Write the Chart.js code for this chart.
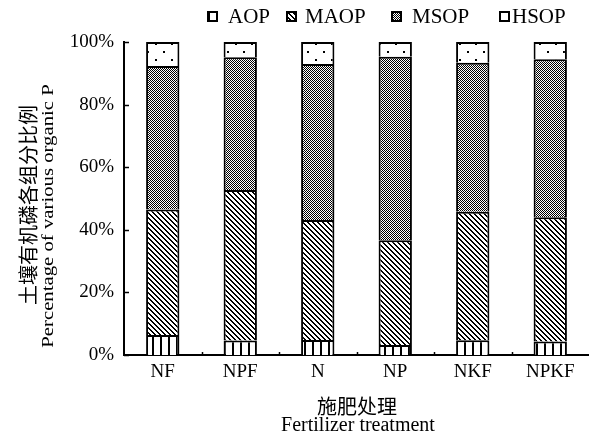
<!DOCTYPE html>
<html>
<head>
<meta charset="utf-8">
<script src="https://cdn.jsdelivr.net/npm/chart.js@4.4.1/dist/chart.umd.min.js"></script>
<style>
  html, body { margin: 0; padding: 0; background: #fff; }
</style>
</head>
<body>
<canvas id="c" width="589" height="446"></canvas>
<script>
// data (percent of total organic P)
const categories = ["NF", "NPF", "N", "NP", "NKF", "NPKF"];
const seriesNames = ["AOP", "MAOP", "MSOP", "HSOP"];
const aop = [6.4, 4.6, 4.8, 3.2, 4.7, 4.3];
const maop = [40.1, 48.1, 38.3, 33.5, 41.1, 39.7];
const msop = [45.8, 42.4, 49.9, 58.6, 47.6, 50.5];
const hsop = [7.7, 4.9, 7.0, 4.7, 6.6, 5.5];
const yTicks = [0, 20, 40, 60, 80, 100];

const serif = "'Liberation Serif', 'Times New Roman', serif";
const cjk = "'Noto Sans CJK SC', sans-serif";
const canvas = document.getElementById("c");
const ctx = canvas.getContext("2d");

function makePattern(w, h, draw) {
  const c = document.createElement("canvas");
  c.width = w;
  c.height = h;
  const g = c.getContext("2d");
  g.fillStyle = "#fff";
  g.fillRect(0, 0, w, h);
  g.fillStyle = "#000";
  draw(g);
  return ctx.createPattern(c, "repeat");
}

const patterns = [
  // vertical stripes
  makePattern(8, 8, g => g.fillRect(0, 0, 2, 8)),
  // "\" diagonal hatch
  makePattern(5, 5, g => {
    for (let i = 0; i < 5; i++) {
      g.fillRect(i, i, 1, 1);
      g.fillRect((i + 1) % 5, i, 1, 1);
    }
  }),
  // fine checker
  makePattern(2, 2, g => {
    g.fillRect(0, 0, 1, 1);
    g.fillRect(1, 1, 1, 1);
  }),
  // sparse dots
  makePattern(16, 16, g => {
    g.fillRect(3, 3, 2, 2);
    g.fillRect(11, 11, 2, 2);
  }),
];

const values = [aop, maop, msop, hsop];
const datasets = seriesNames.map((name, i) => ({
  label: name,
  data: values[i],
  backgroundColor: patterns[i],
  borderColor: "#000",
  borderWidth: { left: 2, right: 2, top: 2, bottom: 0 },
  borderSkipped: false,
  barPercentage: 0.43,
  categoryPercentage: 1,
}));

// inward ticks, legend and titles
const decor = {
  id: "decor",
  afterDraw(chart) {
    const c = chart.ctx;
    const area = chart.chartArea;
    const xs = chart.scales.x;
    const ys = chart.scales.y;
    c.save();
    c.strokeStyle = "#000";
    c.lineWidth = 1.5;
    yTicks.forEach(v => {
      const y = Math.round(ys.getPixelForValue(v)) + 0.5;
      c.beginPath();
      c.moveTo(area.left, y);
      c.lineTo(area.left + 5, y);
      c.stroke();
    });
    for (let i = 1; i < categories.length; i++) {
      const x = Math.round((xs.getPixelForValue(i - 1) + xs.getPixelForValue(i)) / 2) + 0.5;
      c.beginPath();
      c.moveTo(x, area.bottom);
      c.lineTo(x, area.bottom - 3);
      c.stroke();
    }

    // legend
    const iconX = [208, 287, 392, 500];
    const textX = [228, 305, 412, 512];
    c.font = "21px " + serif;
    c.textBaseline = "middle";
    c.textAlign = "left";
    chart.data.datasets.forEach((ds, i) => {
      c.fillStyle = ds.backgroundColor;
      c.fillRect(iconX[i], 12, 9, 9);
      c.lineWidth = 2;
      c.strokeRect(iconX[i], 12, 9, 9);
      c.fillStyle = "#000";
      c.fillText(ds.label, textX[i], 17);
    });

    // y title
    c.textAlign = "center";
    c.save();
    c.translate(28, 205);
    c.rotate(-Math.PI / 2);
    c.font = "20px " + cjk;
    c.fillText("土壤有机磷各组分比例", 0, 0);
    c.restore();
    c.save();
    c.translate(49, 216);
    c.rotate(-Math.PI / 2);
    c.scale(1.22, 1);
    c.font = "17px " + serif;
    c.fillText("Percentage of various organic P", 0, 0);
    c.restore();

    // x title
    c.font = "20px " + cjk;
    c.fillText("施肥处理", 357, 406);
    c.font = "20px " + serif;
    c.fillText("Fertilizer treatment", 358, 426);
    c.restore();
  },
};

new Chart(canvas, {
  type: "bar",
  data: { labels: categories, datasets: datasets },
  options: {
    responsive: false,
    animation: false,
    layout: { padding: { top: 42, left: 0, right: 0, bottom: 0 } },
    plugins: {
      legend: { display: false },
      tooltip: { enabled: false },
    },
    scales: {
      x: {
        stacked: true,
        grid: { display: false },
        border: { color: "#000", width: 2 },
        ticks: { color: "#000", font: { family: serif, size: 19 }, padding: -2 },
        afterFit: s => { s.height = 91; },
      },
      y: {
        stacked: true,
        min: 0,
        max: 100,
        grid: { display: false },
        border: { color: "#000", width: 2 },
        ticks: {
          stepSize: 20,
          color: "#000",
          font: { family: serif, size: 19 },
          padding: 2,
          callback: v => v + "%",
        },
        afterFit: s => { s.width = 124; },
      },
    },
  },
  plugins: [decor],
});
</script>
</body>
</html>
